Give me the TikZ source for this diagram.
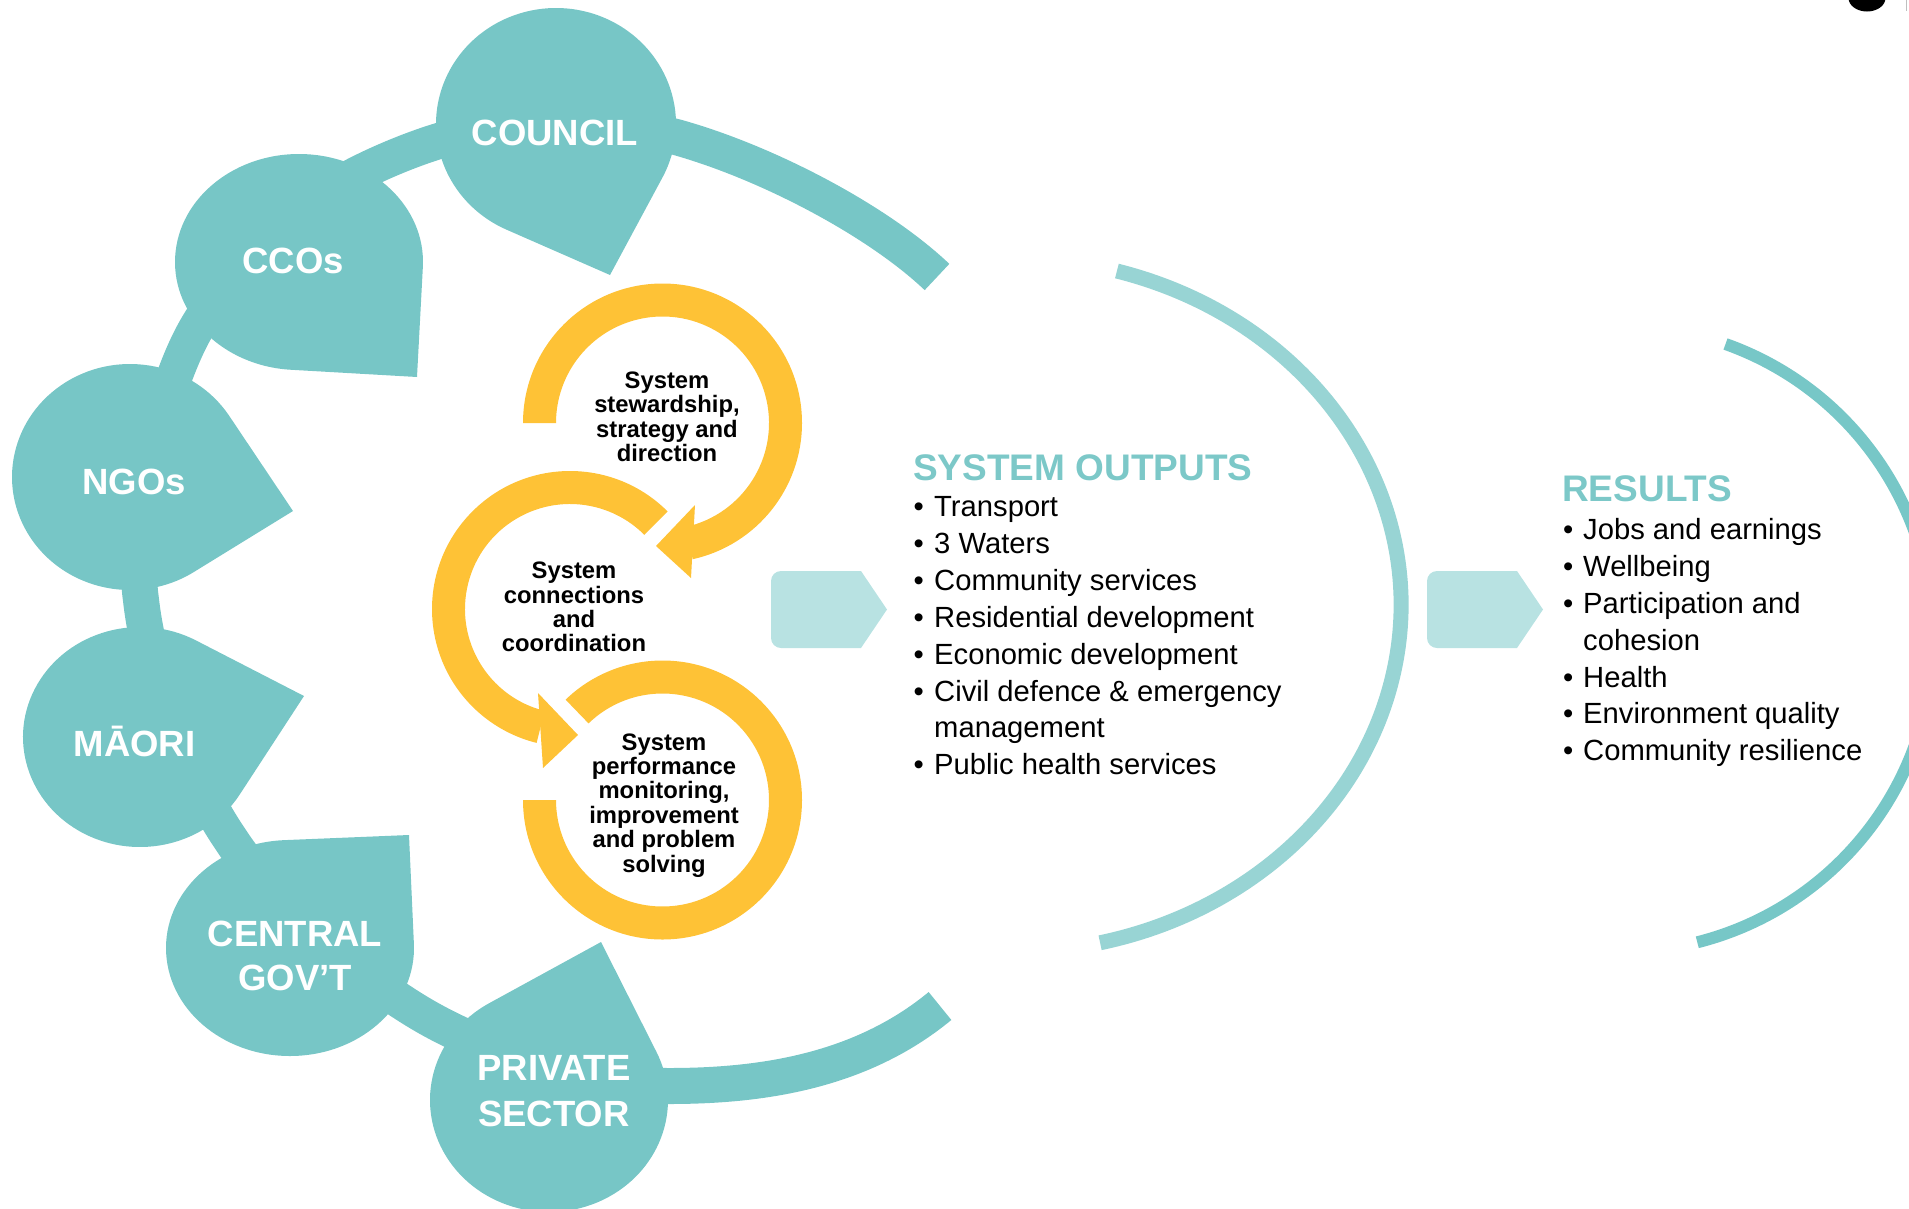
\documentclass[tikz,border=0pt]{standalone}
\usepackage{fontspec}
\setmainfont{Liberation Sans}
\usetikzlibrary{calc}
\definecolor{tealc}{HTML}{77C6C6}
\definecolor{tealh}{HTML}{7CC8C8}
\definecolor{lightarc}{HTML}{98D4D4}
\definecolor{resarc}{HTML}{77C7C7}
\definecolor{chev}{HTML}{B8E2E2}
\definecolor{yel}{HTML}{FEC236}
\tikzset{
  lab/.style={text=white, font=\fontsize{36.5}{40}\selectfont\bfseries, anchor=base, inner sep=0pt},
  ringtxt/.style={text=black, font=\fontsize{23.8}{25}\selectfont\bfseries, anchor=base, inner sep=0pt},
  item/.style={text=black, font=\fontsize{29.2}{31}\selectfont, anchor=base west, inner sep=0pt},
  headtxt/.style={text=tealh, font=\fontsize{37}{40}\selectfont\bfseries, anchor=base west, inner sep=0pt},
}
% teardrop: cx cy rx ry tipx tipy
\newcommand\tdrop[6]{%
  \pgfmathsetmacro\tdk{#3/#4}%
  \pgfmathsetmacro\tdx{(#5-#1)/\tdk}%
  \pgfmathsetmacro\tdy{#6-#2}%
  \pgfmathsetmacro\tdang{atan2(\tdy,\tdx)}%
  \pgfmathsetmacro\tdd{veclen(\tdx,\tdy)}%
  \pgfmathsetmacro\tdphi{acos(#4/\tdd)}%
  \pgfmathsetmacro\tda{\tdang-\tdphi}%
  \pgfmathsetmacro\tdb{\tdang+\tdphi-360}%
  \pgfmathsetmacro\tdc{\tdang+\tdphi}%
  \begin{scope}[shift={(#1,#2)}, xscale=\tdk]
    \fill[tealc] (\tdc:#4) -- (\tdx,\tdy) -- (\tda:#4) arc[start angle=\tda, end angle=\tdb, radius=#4] -- cycle;
  \end{scope}}
% ring segment: cx cy rin rout startangle endangle
\newcommand\ringseg[6]{%
  \fill[yel] ($(#1,#2)+(#5:#4)$) arc[start angle=#5, end angle=#6, radius=#4]
    -- ($(#1,#2)+(#6:#3)$) arc[start angle=#6, end angle=#5, radius=#3] -- cycle;}
\begin{document}
\begin{tikzpicture}[x=1pt,y=-1pt]
\useasboundingbox (0,0) rectangle (1909,1208);
\clip (0,0) rectangle (1909,1208);

% main teal band
\draw[tealc, line width=36pt, line join=round]
  (937,277) .. controls (877,220) and (766,162) .. (676,137)
  .. controls (620,122) and (500,124) .. (442,140)
  .. controls (415,148) and (380,162) .. (350,178)
  .. controls (290,212) and (220,280) .. (190,340)
  .. controls (160,400) and (130,520) .. (141,600)
  .. controls (150,680) and (190,780) .. (231,840)
  .. controls (270,900) and (360,980) .. (430,1019)
  .. controls (500,1058) and (600,1086) .. (669,1086)
  .. controls (760,1086) and (860,1072) .. (940,1006);

% teardrops
\tdrop{556}{124}{120}{116}{610}{275}
\tdrop{299}{262}{124}{108}{417}{377}
\tdrop{130}{477}{118}{113}{293}{511}
\tdrop{140}{737}{117}{110}{304}{696}
\tdrop{290}{948}{124}{108}{409}{835}
\tdrop{549}{1100}{119}{112}{601}{942}

% labels
\node[lab] (council) at (555,145.7) {COUNCIL};
\node[lab] (ccos) at (293,273) {CCOs};
\node[lab] (ngos) at (134,494) {NGOs};
\node[lab] (maori) at (134.5,756) {MĀORI};
\node[lab] (central1) at (295,946) {CENTRAL};
\node[lab] (central2) at (295,990) {GOV’T};
\node[lab] (private1) at (554,1080) {PRIVATE};
\node[lab] (private2) at (554,1126) {SECTOR};

% yellow rings
\ringseg{662.5}{423}{106.5}{139.5}{180}{437.5}
\fill[yel] (695,505) -- (656,546) -- (691,578) -- cycle;
\ringseg{570}{609}{105}{138}{315}{104}
\fill[yel] (538,693) -- (578,735) -- (543,768) -- cycle;
\ringseg{662.5}{800}{106.5}{139.5}{180}{-134}

\node[ringtxt] (st1) at (667,388.3) {System};
\node[ringtxt] (st2) at (667,412.8) {stewardship,};
\node[ringtxt] (st3) at (667,437.3) {strategy and};
\node[ringtxt] (st4) at (667,461.8) {direction};
\node[ringtxt] (co1) at (574,578.3) {System};
\node[ringtxt] (co2) at (574,603.3) {connections};
\node[ringtxt] (co3) at (574,627.3) {and};
\node[ringtxt] (co4) at (574,651.7) {coordination};
\node[ringtxt] (pf1) at (664,750) {System};
\node[ringtxt] (pf2) at (664,774.3) {performance};
\node[ringtxt] (pf3) at (664,798.3) {monitoring,};
\node[ringtxt] (pf4) at (664,823.3) {improvement};
\node[ringtxt] (pf5) at (664,847.3) {and problem};
\node[ringtxt] (pf6) at (664,872.3) {solving};

% chevrons
\fill[chev] (861,571) -- (887,609.5) -- (861,648) -- (781,648) arc[start angle=90, end angle=180, radius=10] -- (771,581) arc[start angle=180, end angle=270, radius=10] -- cycle;
\begin{scope}[shift={(656,0)}]
\fill[chev] (861,571) -- (887,609.5) -- (861,648) -- (781,648) arc[start angle=90, end angle=180, radius=10] -- (771,581) arc[start angle=180, end angle=270, radius=10] -- cycle;
\end{scope}

% light arcs
\draw[lightarc, line width=15pt] (1116.9,271) arc[start angle=-74.25, end angle=76.8, x radius=390, y radius=347];
\draw[resarc, line width=12pt] (1725.5,344) arc[start angle=-70.4, end angle=75.8, radius=313];

% system outputs
\node[headtxt] (outhead) at (913,480) {SYSTEM OUTPUTS};
\foreach \y/\t [count=\i] in {516.5/Transport, 553.5/3 Waters, 590.5/Community services, 627.5/Residential development, 664.5/Economic development, 701/Civil defence \& emergency, 774.5/Public health services}{
  \node[item] (ob\i) at (913.5,\y) {•};
  \node[item] (o\i) at (934,\y) {\t};
}
\node[item] (o6b) at (934,737.5) {management};

% results
\node[headtxt] (reshead) at (1562,501.5) {RESULTS};
\foreach \y/\t [count=\i] in {539/Jobs and earnings, 576/Wellbeing, 613/Participation and, 687/Health, 723.5/Environment quality, 760/Community resilience}{
  \node[item] (rb\i) at (1563,\y) {•};
  \node[item] (r\i) at (1583,\y) {\t};
}
\node[item] (r3b) at (1583,650) {cohesion};

% corner fragments
\fill[black] (1867,-2) ellipse [x radius=18.5, y radius=13.5];
\draw[gray!50, line width=1.5pt] (1906.5,0) -- (1906.5,11);
\end{tikzpicture}
\end{document}
